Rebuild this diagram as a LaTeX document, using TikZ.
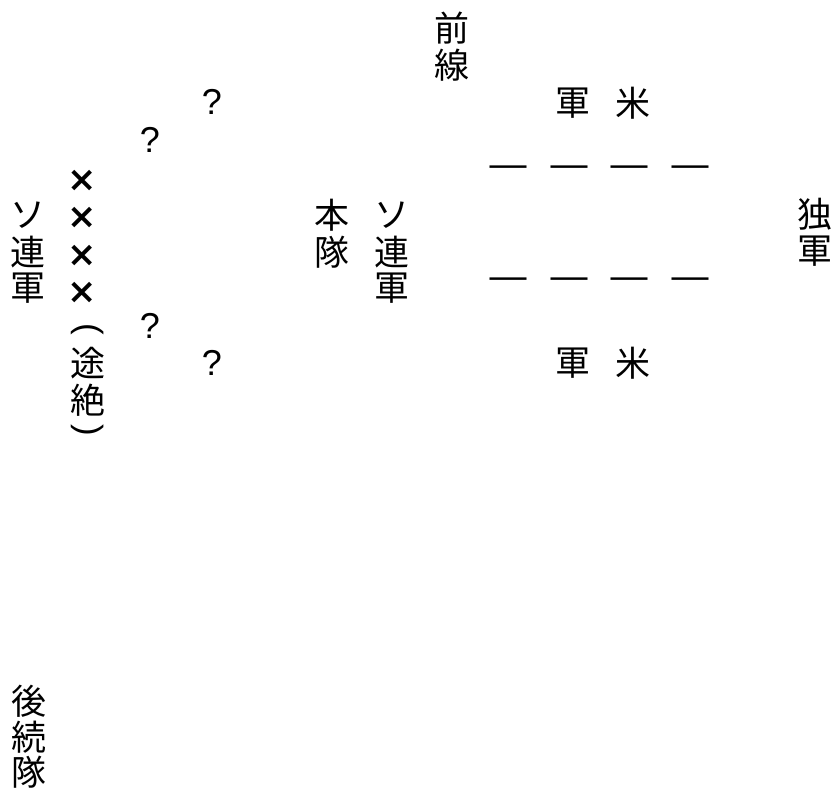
\documentclass[tikz,border=0pt]{standalone}
\usepackage{fontspec}
\usepackage{graphicx}
\setmainfont{Noto Sans CJK JP}
\newfontfamily\latinfont{Liberation Sans}
\newfontfamily\symfont{DejaVu Sans}
\begin{document}
\begin{tikzpicture}[x=1pt,y=-1pt,
  ch/.style={font=\fontsize{35}{35}\selectfont, inner sep=0pt, anchor=center},
  qm/.style={font=\fontsize{36}{36}\selectfont\latinfont, inner sep=0pt, anchor=center},
  cross/.style={font=\fontsize{35}{35}\selectfont\symfont\bfseries, inner sep=0pt, anchor=center},
  dashmark/.style={font=\fontsize{37}{37}\selectfont\latinfont, inner sep=0pt, anchor=center},
  paren/.style={font=\fontsize{35}{35}\selectfont\latinfont, inner sep=0pt, anchor=center}]
\useasboundingbox[fill=white] (0,0) rectangle (836,792);
% 前線
\node[ch] (zen1) at (452,28) {前};
\node[ch] (zen2) at (452,65) {線};
% question marks
\node[qm] (q1) at (212,102) {?};
\node[qm] (q2) at (150,140) {?};
\node[qm] (q3) at (150,326) {?};
\node[qm] (q4) at (212,363) {?};
% 米軍 top / bottom
\node[ch] (gunT) at (573,103) {軍};
\node[ch] (beiT) at (633,103) {米};
\node[ch] (gunB) at (573,363) {軍};
\node[ch] (beiB) at (633,363) {米};
% crosses
\node[cross] (x1) at (82,181) {×};
\node[cross] (x2) at (82,218) {×};
\node[cross] (x3) at (82,256) {×};
\node[cross] (x4) at (82,293) {×};
% ソ連軍 left
\node[ch] (sL1) at (28,215) {ソ};
\node[ch] (sL2) at (28,252) {連};
\node[ch] (sL3) at (28,288) {軍};
% (途絶)
\node[paren] (p1) at (88,331) {\rotatebox[origin=c]{-90}{(}};
\node[ch] (p2) at (88,363) {途};
\node[ch] (p3) at (88,400) {絶};
\node[paren] (p4) at (88,432) {\rotatebox[origin=c]{-90}{)}};
% 本隊
\node[ch] (hon1) at (332,215) {本};
\node[ch] (hon2) at (332,252) {隊};
% ソ連軍 right
\node[ch] (sR1) at (392,215) {ソ};
\node[ch] (sR2) at (392,252) {連};
\node[ch] (sR3) at (392,288) {軍};
% dashes
\node[dashmark] (dA1) at (508,171) {—};
\node[dashmark] (dA2) at (569,171) {—};
\node[dashmark] (dA3) at (629,171) {—};
\node[dashmark] (dA4) at (690,171) {—};
\node[dashmark] (dB1) at (508,283) {—};
\node[dashmark] (dB2) at (569,283) {—};
\node[dashmark] (dB3) at (629,283) {—};
\node[dashmark] (dB4) at (690,283) {—};
% 独軍
\node[ch] (doku1) at (815,214) {独};
\node[ch] (doku2) at (815,251) {軍};
% 後続隊
\node[ch] (ko1) at (29,701) {後};
\node[ch] (ko2) at (29,737) {続};
\node[ch] (ko3) at (29,772) {隊};
\end{tikzpicture}
\end{document}
